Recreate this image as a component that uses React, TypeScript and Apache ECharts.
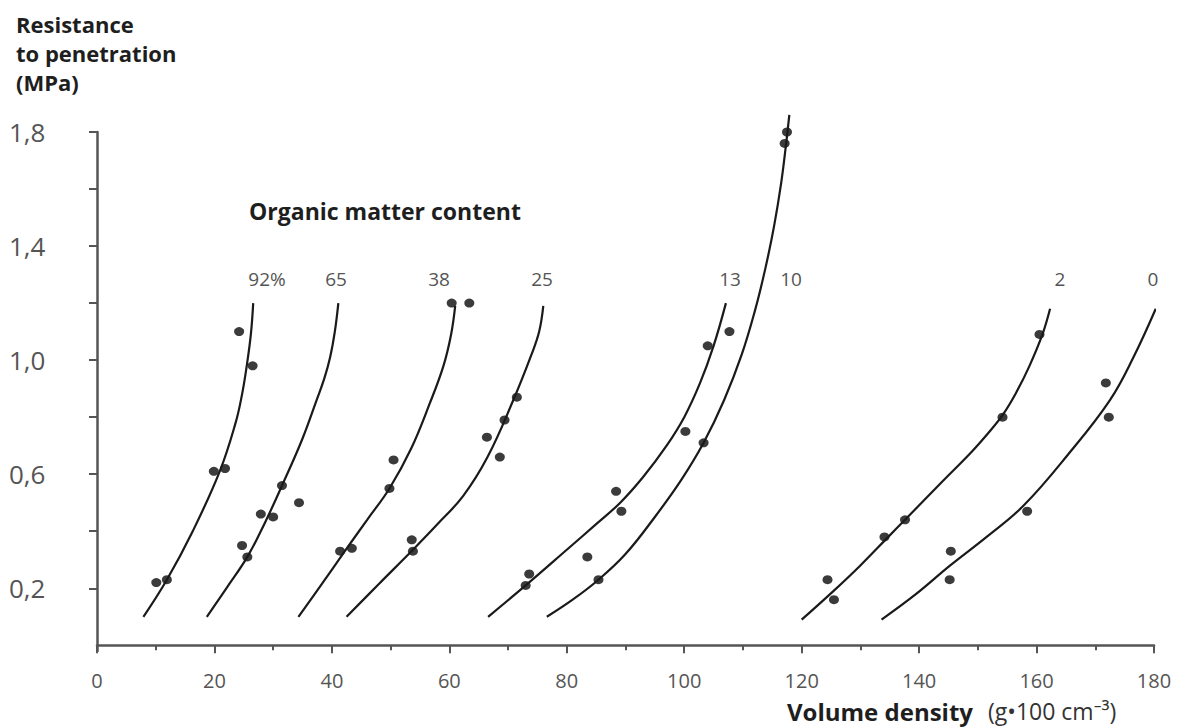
import React, { useEffect, useRef } from "react";
import * as echarts from "echarts";

// Fitted curves (x: volume density, y: resistance MPa)
const curve92 = [[7.9, 0.1], [11.9, 0.23], [16.3, 0.4], [20.9, 0.61], [23.6, 0.78], [24.7, 0.88], [25.5, 0.98], [26.2, 1.09], [26.6, 1.2]];
const curve65 = [[18.7, 0.1], [22.2, 0.205], [25.6, 0.31], [28.6, 0.43], [31.5, 0.56], [34.9, 0.72], [37.4, 0.86], [38.7, 0.935], [39.7, 1.01], [40.5, 1.1], [41.1, 1.2]];
const curve38 = [[34.3, 0.1], [38.3, 0.215], [42.2, 0.33], [46.0, 0.44], [49.8, 0.55], [53.5, 0.69], [56.7, 0.85], [59.0, 0.98], [60.3, 1.09], [61.0, 1.19]];
const curve25 = [[42.5, 0.1], [48.0, 0.215], [53.8, 0.335], [58.0, 0.425], [62.4, 0.525], [66.5, 0.66], [70.9, 0.86], [74.0, 1.02], [75.3, 1.1], [76.0, 1.19]];
const curve13 = [[66.6, 0.1], [73.0, 0.21], [80.0, 0.335], [85.0, 0.425], [89.1, 0.5], [93.0, 0.59], [97.0, 0.7], [100.0, 0.8], [102.7, 0.92], [105.0, 1.05], [107.1, 1.2]];
const curve10 = [[76.6, 0.1], [81.0, 0.16], [85.4, 0.23], [90.0, 0.32], [95.0, 0.45], [99.5, 0.58], [103.3, 0.71], [106.8, 0.86], [109.8, 1.02], [112.0, 1.17], [113.8, 1.32], [115.3, 1.47], [116.5, 1.62], [117.3, 1.75], [117.9, 1.86]];
const curve2 = [[120.0, 0.09], [125.4, 0.19], [130.0, 0.28], [134.5, 0.375], [137.6, 0.44], [143.5, 0.565], [149.0, 0.68], [152.0, 0.75], [154.3, 0.81], [156.5, 0.885], [158.8, 0.98], [161.0, 1.09], [162.3, 1.18]];
const curve0 = [[133.6, 0.09], [139.5, 0.18], [145.3, 0.28], [151.5, 0.38], [157.8, 0.49], [165.4, 0.67], [172.5, 0.86], [176.5, 1.01], [180.3, 1.18]];

// Measured points
const dots92 = [[10.1, 0.22], [11.9, 0.23], [19.9, 0.61], [21.8, 0.62], [24.2, 1.1], [26.5, 0.98]];
const dots65 = [[24.7, 0.35], [25.6, 0.31], [27.9, 0.46], [30.0, 0.45], [31.5, 0.56], [34.4, 0.5]];
const dots38 = [[41.4, 0.33], [43.4, 0.34], [49.8, 0.55], [50.5, 0.65], [60.4, 1.2], [63.4, 1.2]];
const dots25 = [[53.6, 0.37], [53.8, 0.33], [66.4, 0.73], [68.6, 0.66], [69.4, 0.79], [71.5, 0.87]];
const dots13 = [[73.0, 0.21], [73.6, 0.25], [83.5, 0.31], [88.4, 0.54], [89.3, 0.47], [100.2, 0.75], [104.0, 1.05], [107.7, 1.1]];
const dots10 = [[85.4, 0.23], [103.3, 0.71], [117.1, 1.76], [117.5, 1.8]];
const dots2 = [[124.4, 0.23], [125.5, 0.16], [134.1, 0.38], [137.6, 0.44], [154.2, 0.8], [160.5, 1.09]];
const dots0 = [[145.4, 0.33], [145.2, 0.23], [158.4, 0.47], [171.8, 0.92], [172.3, 0.8]];

const curveLabels = ["92%", "65", "38", "25", "13", "10", "2", "0"];
const curveLabelX = [267, 336, 439, 542, 730, 791, 1060, 1153];

const yTickValues = [0.2, 0.4, 0.6, 0.8, 1.0, 1.2, 1.4, 1.6, 1.8];
const yLabelValues = [0.2, 0.6, 1.0, 1.4, 1.8];

const curves = [curve92, curve65, curve38, curve25, curve13, curve10, curve2, curve0];
const dotSets = [dots92, dots65, dots38, dots25, dots13, dots10, dots2, dots0];

const AXIS = "#555555";
const FONT = "'Open Sans', 'Noto Sans', 'DejaVu Sans', sans-serif";

export default function App() {
  const ref = useRef<HTMLDivElement>(null);
  useEffect(() => {
    if (!ref.current) return;
    const chart = echarts.init(ref.current, null, { renderer: "svg" });
    const series: any[] = [];
    curves.forEach((c, i) => {
      series.push({
        type: "line",
        name: "curve" + curveLabels[i],
        data: c,
        smooth: 0.4,
        showSymbol: false,
        symbol: "none",
        clip: false,
        lineStyle: { color: "#1a1a1a", width: 2.2 },
        silent: true,
      });
    });
    dotSets.forEach((d, i) => {
      series.push({
        type: "scatter",
        name: "dots" + curveLabels[i],
        data: d,
        symbol: "circle",
        symbolSize: [10, 9],
        itemStyle: { color: "#0a0a0a" },
        clip: false,
        silent: true,
      });
    });
    const graphics: any[] = [
      {
        type: "text",
        left: 16,
        top: 9,
        style: {
          text: "Resistance\nto penetration\n(MPa)",
          font: `bold 22px ${FONT}`,
          fill: "#1e1e1e",
          lineHeight: 29,
        },
      },
      {
        type: "text",
        x: 249,
        y: 211,
        style: {
          text: "Organic matter content",
          font: `bold 23px ${FONT}`,
          fill: "#1e1e1e",
          textVerticalAlign: "middle",
        },
      },
      {
        type: "text",
        x: 787,
        y: 711,
        style: {
          text: "Volume density",
          font: `bold 24px ${FONT}`,
          fill: "#1e1e1e",
          textVerticalAlign: "middle",
        },
      },
      {
        type: "text",
        x: 988,
        y: 711,
        style: {
          text: "(g•100 cm⁻³)",
          font: `23px ${FONT}`,
          fill: "#333333",
          textVerticalAlign: "middle",
        },
      },
    ];
    curveLabels.forEach((t, i) => {
      graphics.push({
        type: "text",
        x: curveLabelX[i],
        y: 279,
        style: {
          text: t,
          font: `19px ${FONT}`,
          fill: "#555555",
          textAlign: "center",
          textVerticalAlign: "middle",
        },
      });
    });
    chart.setOption({
      animation: false,
      backgroundColor: "#ffffff",
      grid: { left: 97, right: 26, top: 132, bottom: 77, outerBoundsMode: "none", containLabel: false },
      xAxis: {
        type: "value",
        min: 0,
        max: 180,
        interval: 20,
        axisLine: { show: true, lineStyle: { color: AXIS, width: 2.5 } },
        axisTick: { show: true, length: 8, lineStyle: { color: AXIS, width: 2 } },
        minorTick: { show: true, splitNumber: 2, length: 5, lineStyle: { color: AXIS, width: 2 } },
        axisLabel: { fontSize: 20, lineHeight: 20, color: "#555555", fontFamily: FONT, margin: 19 },
        splitLine: { show: false },
        minorSplitLine: { show: false },
      },
      yAxis: {
        type: "value",
        min: -0.02,
        max: 1.8,
        axisLine: { show: true, lineStyle: { color: AXIS, width: 2.5 } },
        axisTick: { show: true, length: 8, customValues: yTickValues, lineStyle: { color: AXIS, width: 2 } },
        axisLabel: {
          customValues: yLabelValues,
          fontSize: 26,
          color: "#555555",
          fontFamily: FONT,
          align: "left",
          margin: 88,
          formatter: (v: number) => v.toFixed(1).replace(".", ","),
        },
        splitLine: { show: false },
      },
      graphic: graphics,
      series,
    });
    return () => chart.dispose();
  }, []);
  return (
    <div
      ref={ref}
      style={{ position: "absolute", left: 0, top: 0, width: 1180, height: 728, background: "#fff" }}
    />
  );
}
